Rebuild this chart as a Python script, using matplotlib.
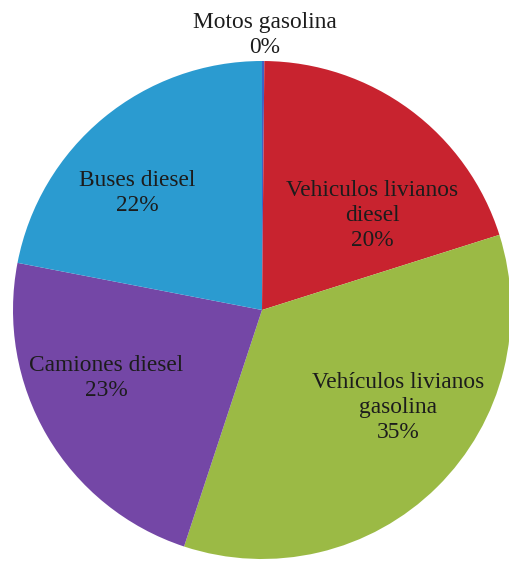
import matplotlib.pyplot as plt
import numpy as np

# emission share by vehicle category, clockwise from the top
categories = [
    "Motos gasolina",
    "Vehiculos livianos\ndiesel",
    "Vehículos livianos\ngasolina",
    "Camiones diesel",
    "Buses diesel",
]
shares = [0.15, 20, 35, 23, 22]
colors = ["#3f63c4", "#c8232f", "#9bba45", "#7447a6", "#2b9bd0"]

# label centres in pie units (radius = 1)
label_pos = [(0.012, 1.103), (0.442, 0.38), (0.545, -0.39), (-0.627, -0.275), (-0.50, 0.47)]

plt.rcParams["font.family"] = ["Liberation Serif", "DejaVu Serif"]

W, H = 509, 561
fig = plt.figure(figsize=(W / 100, H / 100), dpi=100)
cx, cy, r = 262, 310, 249
ax = fig.add_axes([(cx - r) / W, (H - cy - r) / H, 2 * r / W, 2 * r / H])

ax.pie(shares, colors=colors, startangle=90, counterclock=False, radius=1,
       wedgeprops=dict(linewidth=0))
ax.set_xlim(-1, 1)
ax.set_ylim(-1, 1)
ax.axis("off")

total = sum(shares)
for name, val, (x, y) in zip(categories, shares, label_pos):
    pct = round(val / total * 100)
    ax.text(x, y, f"{name}\n{pct}%", ha="center", va="center",
            fontsize=16.8, color="#1c1c1c", linespacing=1.25, clip_on=False)

fig.savefig("out.png", dpi=100)
